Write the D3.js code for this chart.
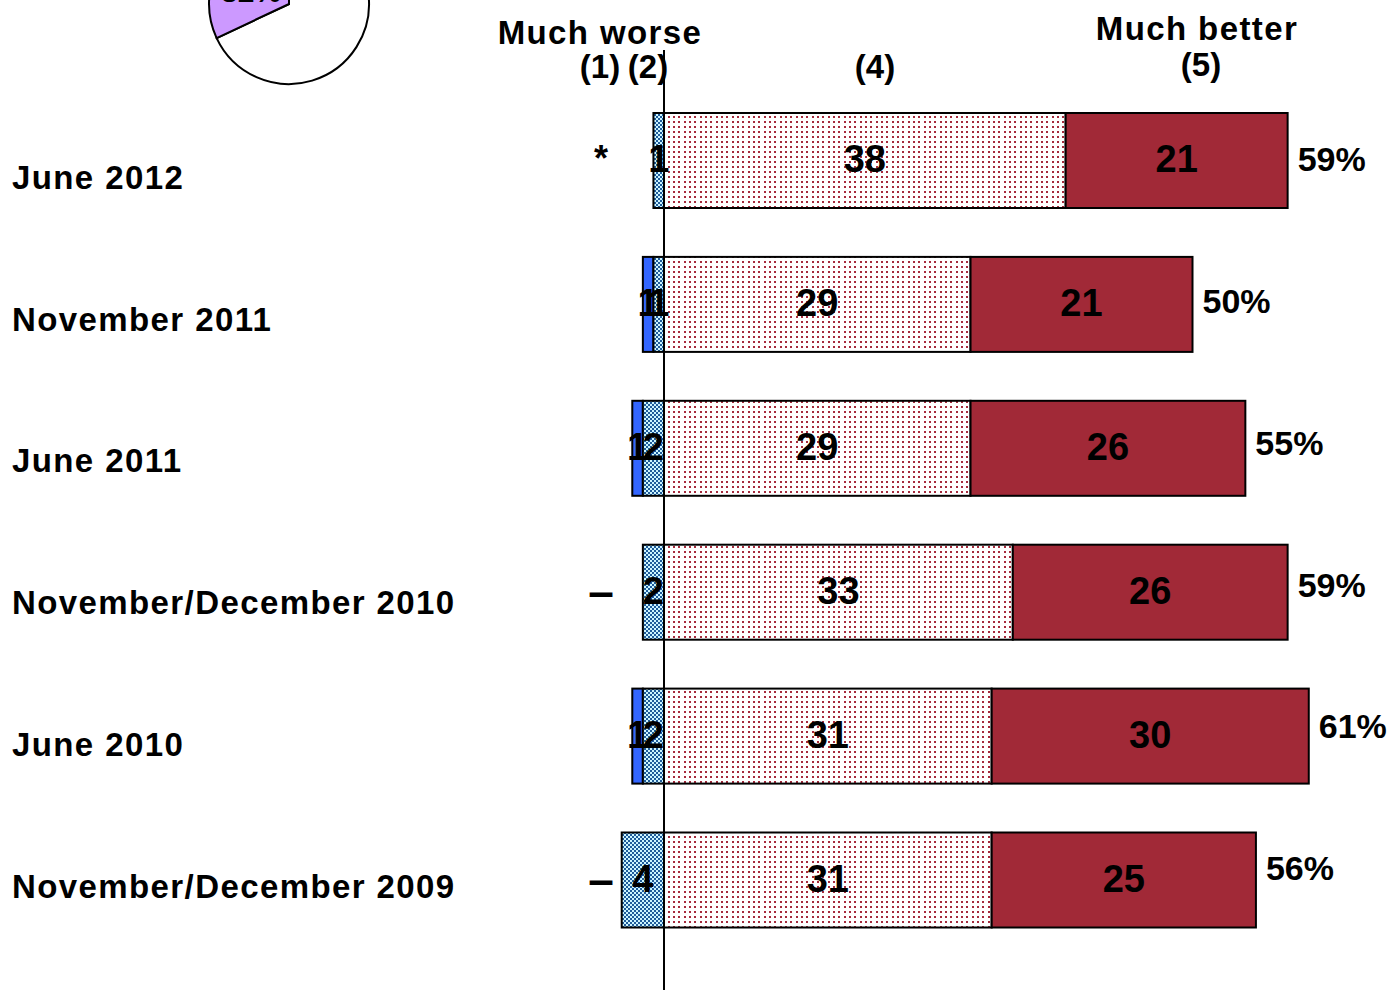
<!DOCTYPE html>
<html><head><meta charset="utf-8">
<script src="https://cdn.jsdelivr.net/npm/d3@7"></script>
<style>
html,body{margin:0;padding:0;background:#fff;overflow:hidden}
text{font-family:"Liberation Sans",Arial,Helvetica,sans-serif;font-weight:bold;fill:#000}
</style></head>
<body><svg id="c" width="1388" height="990"></svg>
<script>
const periods = ["June 2012","November 2011","June 2011","November/December 2010","June 2010","November/December 2009"];
const muchWorse = [0, 1, 1, 0, 1, 0];
const muchWorseLabels = ["*", "1", "1", "–", "1", "–"];
const worse = [1, 1, 2, 2, 2, 4];
const better = [38, 29, 29, 33, 31, 31];
const muchBetter = [21, 21, 26, 26, 30, 25];
const totals = [59, 50, 55, 59, 61, 56];
const pieValues = [68, 32];
const pieLabel = "32%";

const svg = d3.select("#c");
const defs = svg.append("defs");
// checker pattern
const chk = defs.append("pattern").attr("id","chk").attr("patternUnits","userSpaceOnUse").attr("width",4).attr("height",4);
chk.append("rect").attr("width",4).attr("height",4).attr("fill","#CCF4FF");
chk.append("rect").attr("width",2).attr("height",2).attr("fill","#1F5C9A");
chk.append("rect").attr("x",2).attr("y",2).attr("width",2).attr("height",2).attr("fill","#1F5C9A");
// dot pattern (approx. 5.33 px pitch)
const dot = defs.append("pattern").attr("id","dot").attr("patternUnits","userSpaceOnUse").attr("width",16).attr("height",5);
dot.append("rect").attr("width",16).attr("height",5).attr("fill","#fff");
[1,6,12].forEach(px => dot.append("rect").attr("x",px).attr("y",1).attr("width",2).attr("height",2).attr("fill","#A52A3C"));

const unit = 10.57, zeroX = 664;
const x = d3.scaleLinear().domain([-6, 68]).range([zeroX - 6*unit, zeroX + 68*unit]);
const y = d3.scalePoint().domain(periods).range([160.5, 880]);
const yLab = d3.scalePoint().domain(periods).range([177, 886]);
const yTot = d3.scalePoint().domain(periods).range([159, 868]);
const barH = 95;

// pie
const pie = d3.pie().sort(null)(pieValues);
const arc = d3.arc().innerRadius(0).outerRadius(80);
const pg = svg.append("g").attr("transform","translate(289,4)");
pg.selectAll("path").data(pie).join("path").attr("d",arc)
  .attr("fill",(d,i)=> i===0 ? "#fff" : "#CC99FF").attr("stroke","#000").attr("stroke-width",2);
pg.append("text").attr("x",-38).attr("y",-2.5).attr("text-anchor","middle").style("font-size","30px").text(pieLabel);

// headers
const hdr = svg.append("g").style("font-size","33px").style("letter-spacing","1.4px");
hdr.append("text").attr("x",600).attr("y",44).attr("text-anchor","middle").text("Much worse");
hdr.append("text").attr("x",1197).attr("y",40).attr("text-anchor","middle").text("Much better");
hdr.append("text").attr("x",600).attr("y",78).attr("text-anchor","middle").style("letter-spacing","0px").text("(1)");
hdr.append("text").attr("x",648).attr("y",78).attr("text-anchor","middle").style("letter-spacing","0px").text("(2)");
hdr.append("text").attr("x",875).attr("y",78).attr("text-anchor","middle").style("letter-spacing","0px").text("(4)");
hdr.append("text").attr("x",1201).attr("y",76).attr("text-anchor","middle").style("letter-spacing","0px").text("(5)");

// row labels
svg.append("g").selectAll("text").data(periods).join("text")
  .attr("x",12).attr("y",d=>yLab(d)).attr("dy","0.36em")
  .style("font-size","33px").style("letter-spacing","1.4px").text(d=>d);

// segments
const segs = [];
periods.forEach((p,i)=>{
  segs.push({p, x0:-(muchWorse[i]+worse[i]), x1:-worse[i], v:muchWorse[i], lab:muchWorseLabels[i], fill:"#3366FF", k:1});
  segs.push({p, x0:-worse[i], x1:0, v:worse[i], lab:String(worse[i]), fill:"url(#chk)", k:2});
  segs.push({p, x0:0, x1:better[i], v:better[i], lab:String(better[i]), fill:"url(#dot)", k:4});
  segs.push({p, x0:better[i], x1:better[i]+muchBetter[i], v:muchBetter[i], lab:String(muchBetter[i]), fill:"#A12937", k:5});
});
const bars = svg.append("g");
bars.selectAll("rect").data(segs.filter(s=>s.v>0)).join("rect")
  .attr("x",d=>x(d.x0)).attr("width",d=>x(d.x1)-x(d.x0))
  .attr("y",d=>y(d.p)-barH/2).attr("height",barH)
  .attr("fill",d=>d.fill).attr("stroke","#000").attr("stroke-width",2);

const labs = svg.append("g");
labs.selectAll("text").data(segs).join("text")
  .attr("x",d=> d.v>0 ? (x(d.x0)+x(d.x1))/2 : 601)
  .attr("y",d=>y(d.p)-2).attr("dy","0.36em")
  .attr("text-anchor","middle")
  .style("font-size",d=> d.v>0 ? "38px" : (d.lab==="–" ? "46px" : "36px"))
  .text(d=>d.lab);

// zero line
svg.append("line").attr("x1",x(0)).attr("x2",x(0)).attr("y1",50).attr("y2",990)
  .attr("stroke","#000").attr("stroke-width",2);

// totals
svg.append("g").selectAll("text").data(periods).join("text")
  .attr("x",(d,i)=>x(better[i]+muchBetter[i])+10).attr("y",d=>yTot(d)).attr("dy","0.36em")
  .style("font-size","34px").text((d,i)=>totals[i]+"%");
</script></body></html>
